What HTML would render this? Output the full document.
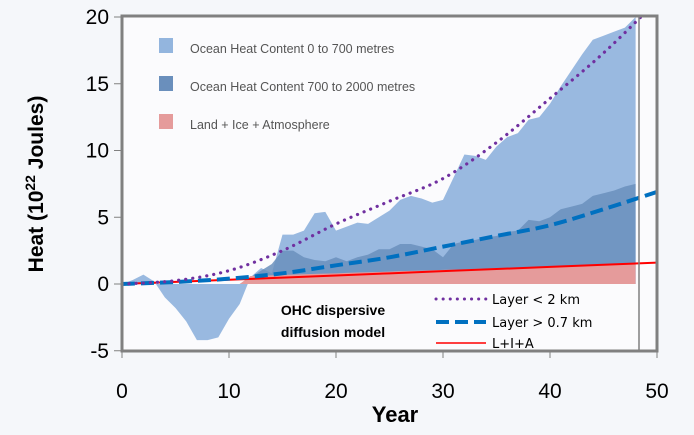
<!DOCTYPE html>
<html><head><meta charset="utf-8"><style>
html,body{margin:0;padding:0;background:#f5f7fa;}
svg{display:block;font-family:"Liberation Sans",sans-serif;}
</style></head><body>
<svg id="chart" width="694" height="435" viewBox="0 0 694 435" xmlns="http://www.w3.org/2000/svg">
<rect x="0" y="0" width="694" height="435" fill="#f5f7fa"/>
<rect x="122" y="16" width="535" height="335" fill="#fbfbfd"/>
<g id="marks"></g>
<g id="axes"></g>
<g font-size="12.5" fill="#555">
  <rect x="159" y="38" width="14" height="15" fill="#93b5de"/>
  <text x="190" y="53">Ocean Heat Content 0 to 700 metres</text>
  <rect x="159" y="76" width="14" height="15" fill="#6a8fbc"/>
  <text x="190" y="91">Ocean Heat Content 700 to 2000 metres</text>
  <rect x="159" y="114" width="14" height="15" fill="#e59b9b"/>
  <text x="190" y="129">Land + Ice + Atmosphere</text>
</g>
<g font-weight="bold" font-size="14" text-anchor="middle" fill="#000">
  <text x="333" y="315">OHC dispersive</text>
  <text x="333" y="337">diffusion model</text>
</g>
<g font-family="DejaVu Sans, sans-serif" font-size="13" fill="#000">
  <line x1="436" y1="299" x2="486" y2="299" stroke="#7030a0" stroke-width="3" stroke-dasharray="0.1 7" stroke-linecap="round"/>
  <text x="492" y="304">Layer &lt; 2 km</text>
  <line x1="436" y1="322" x2="486" y2="322" stroke="#0070c0" stroke-width="4" stroke-dasharray="13 6"/>
  <text x="492" y="327">Layer &gt; 0.7 km</text>
  <line x1="436" y1="343" x2="486" y2="343" stroke="#ff0000" stroke-width="1.5"/>
  <text x="492" y="348">L+I+A</text>
</g>
<text x="395" y="422" text-anchor="middle" font-size="22" font-weight="bold">Year</text>
<text transform="translate(43,184) rotate(-90)" text-anchor="middle" font-size="21" font-weight="bold">Heat (10<tspan baseline-shift="super" font-size="14">22</tspan> Joules)</text>
</svg>
<script>
const years = [0,1,2,3,4,5,6,7,8,9,10,11,12,13,14,15,16,17,18,19,20,21,22,23,24,25,26,27,28,29,30,31,32,33,34,35,36,37,38,39,40,41,42,43,44,45,46,47,48];
const ohcTotal = [0,0.3,0.7,0.2,-1,-1.8,-2.8,-4.2,-4.2,-4.0,-2.6,-1.5,0.5,1.2,0.8,3.7,3.7,4.0,5.3,5.4,4.0,4.3,4.6,4.5,5.0,5.5,6.3,6.6,6.4,6.1,6.3,8.0,9.7,9.6,9.3,10.3,11.0,11.3,12.3,12.5,13.5,14.8,16.0,17.2,18.3,18.6,18.9,19.2,20.0];
const ohcDeep = [0,0,0,0,0,0,0,0,0,0,0,0,0.5,1.0,1.5,2.5,2.5,2.0,1.8,1.7,2.0,1.7,2.0,2.2,2.6,2.6,3.0,3.0,2.8,2.6,2.0,3.0,3.2,3.3,3.5,3.6,3.9,4.0,4.8,4.7,5.0,5.6,5.8,6.0,6.6,6.8,7.0,7.3,7.5];
const liaArea = [0,0,0,0,0,0,0,0,0,0,0,0,0.6,0.62,0.65,0.68,0.7,0.73,0.76,0.78,0.8,0.83,0.86,0.88,0.9,0.93,0.96,0.98,1.0,1.03,1.06,1.08,1.1,1.13,1.16,1.18,1.2,1.23,1.26,1.28,1.3,1.33,1.36,1.38,1.4,1.43,1.46,1.48,1.5];
const modelYears = [0,5,10,15,20,25,30,35,40,45,50];
const layer2km = [0,0.25,1.0,2.5,4.5,6.2,7.9,10.6,13.9,17.3,21.2];
const layer07km = [0,0.15,0.4,0.8,1.4,2.0,2.8,3.6,4.4,5.6,6.9];
const liaLine = [0,0.16,0.32,0.48,0.64,0.8,0.96,1.12,1.28,1.44,1.6];
const xTicks = [0,10,20,30,40,50];
const yTicks = [-5,0,5,10,15,20];

const NS='http://www.w3.org/2000/svg';
const X = v => 122 + v*10.7;
const Y = v => 284 - v*13.35;
function mk(tag, attrs, parent){const e=document.createElementNS(NS,tag);for(const k in attrs)e.setAttribute(k,attrs[k]);parent.appendChild(e);return e;}
const marks=document.getElementById('marks'), axes=document.getElementById('axes');
const defs=mk('defs',{},marks);
const cp=mk('clipPath',{id:'clip'},defs);
mk('rect',{x:122,y:16,width:535,height:335},cp);
const g=mk('g',{'clip-path':'url(#clip)'},marks);

function area(vals){let d='M'+X(years[0])+','+Y(0);years.forEach((yr,i)=>{d+=' L'+X(yr)+','+Y(vals[i]);});d+=' L'+X(years[years.length-1])+','+Y(0)+' Z';return d;}
const a1=mk('path',{d:area(ohcTotal),fill:'#93b5de',opacity:'0.95'},g);


const a2=mk('path',{d:area(ohcDeep),fill:'#6a8fbc',opacity:'0.85'},g);


const a3=mk('path',{d:area(liaArea),fill:'#e59b9b'},g);



function line(vals){return modelYears.map((yr,i)=>(i?'L':'M')+X(yr)+','+Y(vals[i])).join(' ');}
function smooth(vals){let pts=modelYears.map((yr,i)=>[X(yr),Y(vals[i])]);let d='M'+pts[0];for(let i=0;i<pts.length-1;i++){const p0=pts[Math.max(0,i-1)],p1=pts[i],p2=pts[i+1],p3=pts[Math.min(pts.length-1,i+2)];const c1=[p1[0]+(p2[0]-p0[0])/6,p1[1]+(p2[1]-p0[1])/6],c2=[p2[0]-(p3[0]-p1[0])/6,p2[1]-(p3[1]-p1[1])/6];d+=' C'+c1+' '+c2+' '+p2;}return d;}
const l3=mk('path',{d:line(liaLine),fill:'none',stroke:'#ff0000','stroke-width':2},g);


const l2=mk('path',{d:smooth(layer07km),fill:'none',stroke:'#0070c0','stroke-width':4,'stroke-dasharray':'13 6'},g);


const l1=mk('path',{d:smooth(layer2km),fill:'none',stroke:'#7030a0','stroke-width':3.2,'stroke-dasharray':'0.1 7','stroke-linecap':'round'},g);



const vl=mk('line',{x1:639,y1:16,x2:639,y2:351,stroke:'#808080','stroke-width':1.5},marks);


const fr=mk('rect',{x:122,y:16,width:535,height:335,fill:'none',stroke:'#808080','stroke-width':3},marks);



xTicks.forEach(t=>{
  const tk=mk('line',{x1:X(t),y1:351,x2:X(t),y2:358,stroke:'#808080','stroke-width':1},axes);
  
  
  const tx=mk('text',{x:X(t),y:398,'text-anchor':'middle','font-size':'21'},axes);
  tx.textContent=t;
  
  
});
yTicks.forEach(t=>{
  const tk=mk('line',{x1:114,y1:Y(t),x2:122,y2:Y(t),stroke:'#808080','stroke-width':1},axes);
  
  
  const tx=mk('text',{x:109,y:Y(t)+7,'text-anchor':'end','font-size':'21'},axes);
  tx.textContent=t;
  
  
});
</script>
</body></html>
